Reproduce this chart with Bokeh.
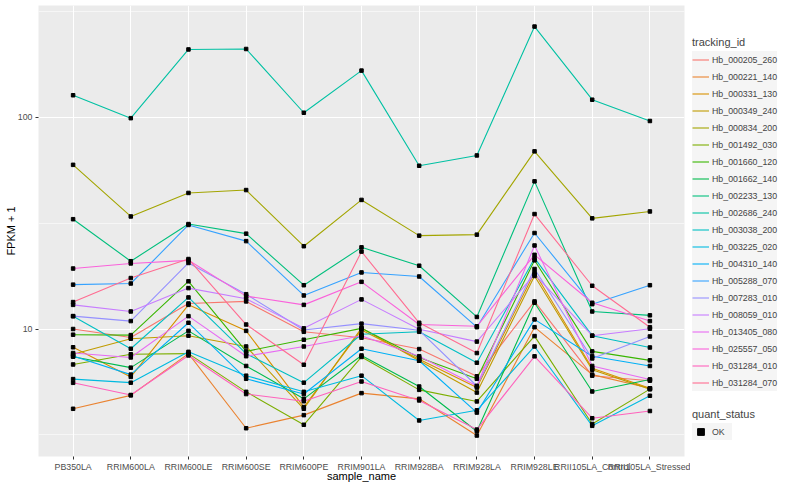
from bokeh.plotting import figure
from bokeh.layouts import row
from bokeh.models import (FactorRange, Range1d, FixedTicker, Legend, LegendItem,
                          ColumnDataSource, PrintfTickFormatter)
from bokeh.embed import file_html
from bokeh.resources import INLINE

samples = ["PB350LA", "RRIM600LA", "RRIM600LE", "RRIM600SE", "RRIM600PE", "RRIM901LA",
           "RRIM928BA", "RRIM928LA", "RRIM928LE", "RRII105LA_Control", "RRII105LA_Stressed"]

tracking_ids = ["Hb_000205_260", "Hb_000221_140", "Hb_000331_130", "Hb_000349_240",
                "Hb_000834_200", "Hb_001492_030", "Hb_001660_120", "Hb_001662_140",
                "Hb_002233_130", "Hb_002686_240", "Hb_003038_200", "Hb_003225_020",
                "Hb_004310_140", "Hb_005288_070", "Hb_007283_010", "Hb_008059_010",
                "Hb_013405_080", "Hb_025557_050", "Hb_031284_010", "Hb_031284_070"]

colors = ["#F8766D", "#EA8331", "#D89000", "#C09B00", "#A3A500", "#7CAE00", "#39B600",
          "#00BB4E", "#00BF7D", "#00C1A3", "#00BFC4", "#00BAE0", "#00B0F6", "#35A2FF",
          "#9590FF", "#C77CFF", "#E76BF3", "#FA62DB", "#FF62BC", "#FF6C91"]

# FPKM + 1 per sample (order of `samples`)
hb_000205_260 = [10.0, 9.12, 13.2, 13.5, 9.7, 9.1, 8.04, 5.98, 13.5, 6.02, 5.7]
hb_000221_140 = [4.2, 4.86, 7.65, 3.4, 3.92, 4.98, 4.68, 3.14, 10.2, 6.09, 5.25]
hb_000331_130 = [8.2, 5.94, 13.0, 9.8, 4.28, 9.9, 7.2, 5.29, 18.5, 6.53, 5.25]
hb_000349_240 = [7.6, 9.0, 9.3, 8.27, 4.2, 10.1, 7.08, 5.01, 17.8, 6.42, 5.2]
hb_000834_200 = [59.6, 34.0, 43.9, 45.3, 24.6, 40.7, 27.6, 27.9, 69.0, 33.3, 35.9]
hb_001492_030 = [6.8, 7.6, 7.65, 5.05, 3.53, 7.38, 5.16, 4.55, 9.26, 3.56, 5.2]
hb_001660_120 = [9.4, 9.36, 16.8, 7.84, 8.9, 10.07, 7.34, 5.82, 21.1, 7.84, 7.11]
hb_001662_140 = [7.4, 6.57, 9.8, 6.69, 4.68, 7.5, 5.35, 3.29, 13.3, 5.07, 5.77]
hb_002233_130 = [33.0, 20.9, 31.3, 28.2, 16.1, 24.3, 19.9, 11.4, 49.8, 12.1, 11.6]
hb_002686_240 = [127.0, 99.0, 209.0, 210.0, 105.0, 166.0, 59.0, 66.0, 268.0, 121.0, 96.0]
hb_003038_200 = [11.5, 8.07, 14.1, 7.65, 5.58, 9.45, 9.7, 6.93, 21.6, 9.3, 8.18]
hb_003225_020 = [5.8, 5.58, 7.8, 6.02, 5.05, 6.02, 3.7, 4.13, 8.27, 3.49, 4.84]
hb_004310_140 = [7.45, 6.09, 10.7, 5.82, 4.93, 8.07, 7.08, 4.03, 11.1, 7.44, 6.69]
hb_005288_070 = [16.2, 16.4, 31.0, 26.0, 14.4, 18.5, 17.7, 10.2, 28.4, 13.1, 16.1]
hb_007283_010 = [11.5, 10.9, 20.5, 14.6, 9.9, 10.6, 9.86, 5.38, 19.2, 7.26, 9.22]
hb_008059_010 = [13.0, 12.1, 15.6, 13.9, 10.07, 13.8, 9.97, 8.72, 18.1, 9.3, 10.03]
hb_013405_080 = [7.7, 7.34, 11.5, 7.44, 8.27, 9.3, 7.44, 5.38, 24.8, 6.69, 5.77]
hb_025557_050 = [19.3, 20.4, 21.1, 14.3, 13.0, 16.7, 10.5, 10.3, 22.4, 13.3, 10.9]
hb_031284_010 = [5.57, 4.88, 7.5, 4.93, 4.56, 5.65, 4.6, 3.35, 7.43, 3.79, 4.1]
hb_031284_070 = [13.4, 17.4, 21.4, 10.5, 6.78, 23.2, 10.7, 7.7, 34.9, 16.0, 10.2]

series = [hb_000205_260, hb_000221_140, hb_000331_130, hb_000349_240, hb_000834_200,
          hb_001492_030, hb_001660_120, hb_001662_140, hb_002233_130, hb_002686_240,
          hb_003038_200, hb_003225_020, hb_004310_140, hb_005288_070, hb_007283_010,
          hb_008059_010, hb_013405_080, hb_025557_050, hb_031284_010, hb_031284_070]

quant_status = ["OK"]

FONT = "Liberation Sans"

p = figure(width=690, height=484,
           x_range=FactorRange(factors=samples, range_padding=0.2 / len(samples)),
           y_range=Range1d(2.5, 337), y_axis_type="log",
           output_backend="svg", toolbar_location=None,
           min_border_left=38, min_border_right=6, min_border_top=5, min_border_bottom=10)

p.background_fill_color = "#EBEBEB"
p.border_fill_color = "white"
p.outline_line_color = None

p.xgrid.grid_line_color = "white"
p.xgrid.grid_line_width = 1.1
p.ygrid.grid_line_color = "white"
p.ygrid.grid_line_width = 1.1
p.ygrid.minor_grid_line_color = "white"
p.ygrid.minor_grid_line_width = 0.55

p.yaxis.ticker = FixedTicker(ticks=[10, 100], minor_ticks=[10 ** 0.5, 10 ** 1.5, 10 ** 2.5])
p.yaxis.formatter = PrintfTickFormatter(format="%d")

for ax in (p.xaxis, p.yaxis):
    ax.axis_line_color = None
    ax.major_tick_line_color = "#333333"
    ax.major_tick_out = 3
    ax.major_tick_in = 0
    ax.minor_tick_line_color = None
    ax.major_label_text_color = "#4D4D4D"
    ax.major_label_text_font_size = "8.8px"
    ax.major_label_text_font = FONT
    ax.major_label_standoff = 2
    ax.axis_label_text_font = FONT
    ax.axis_label_text_font_size = "11px"
    ax.axis_label_text_font_style = "normal"
    ax.axis_label_text_color = "black"

p.xaxis.axis_label_standoff = -5
p.yaxis.axis_label_standoff = -2
p.xaxis.axis_label = "sample_name"
p.yaxis.axis_label = "FPKM + 1"

# legend panel (separate figure placed to the right of the plot)
lp = figure(width=94, height=484, x_range=FactorRange(factors=samples),
            y_range=Range1d(1000, 2000), output_backend="svg", toolbar_location=None,
            x_axis_location=None, y_axis_location=None, min_border=0)
lp.grid.visible = False
lp.outline_line_color = None
lp.background_fill_color = "white"
lp.border_fill_color = "white"

items = []
all_x, all_y = [], []
for tid, col, vals in zip(tracking_ids, colors, series):
    src = ColumnDataSource(data=dict(x=samples, y=vals))
    p.line(x="x", y="y", source=src, line_color=col, line_width=1.1)
    key = lp.line(x="x", y="y", source=src, line_color=col, line_width=1.1)
    items.append(LegendItem(label=tid, renderers=[key]))
    all_x.extend(samples)
    all_y.extend(vals)

pts_src = ColumnDataSource(data=dict(x=all_x, y=all_y))
p.scatter(x="x", y="y", source=pts_src, size=3.5, color="black", marker="square")
pts_key = lp.scatter(x="x", y="y", source=pts_src, size=3.5, color="black", marker="square")


def style_legend(leg):
    leg.title_text_font = FONT
    leg.title_text_font_size = "11px"
    leg.title_text_font_style = "normal"
    leg.title_standoff = 3
    leg.label_text_font = FONT
    leg.label_text_font_size = "8.8px"
    leg.glyph_width = 17
    leg.glyph_height = 17
    leg.label_height = 17
    leg.spacing = 0
    leg.label_standoff = 3
    leg.padding = 5
    leg.margin = 0
    leg.border_line_color = None
    leg.background_fill_alpha = 0
    leg.item_background_policy = "every"
    leg.item_background_fill_color = "#F2F2F2"


leg1 = Legend(items=items, title="tracking_id", location=(2, 65))
style_legend(leg1)
lp.add_layout(leg1, "center")

leg2 = Legend(items=[LegendItem(label=quant_status[0], renderers=[pts_key])],
              title="quant_status", location=(2, 16))
style_legend(leg2)
lp.add_layout(leg2, "center")

open("out.html", "w").write(file_html(row(p, lp), INLINE))
